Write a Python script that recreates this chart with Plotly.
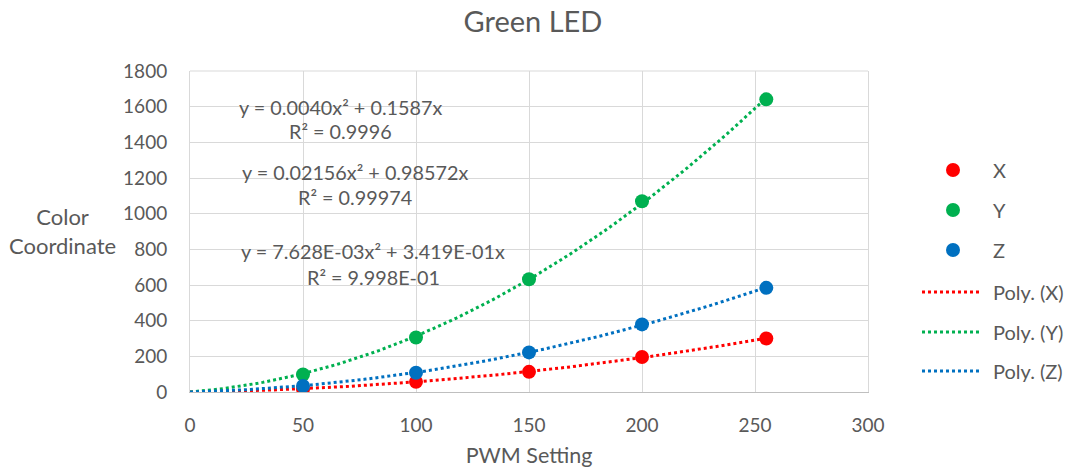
import numpy as np
import plotly.graph_objects as go

# ---- data ----
pwm = [50, 100, 150, 200, 255]
X_vals = [17, 57, 113, 196, 300]
Y_vals = [98, 306, 632, 1070, 1641]
Z_vals = [34, 108, 222, 379, 584]

series_names = ["X", "Y", "Z"]
series_colors = ["#FF0000", "#00B050", "#0070C0"]

eq_lines = [
    ("y = 0.0040x² + 0.1587x", "R² = 0.9996"),
    ("y = 0.02156x² + 0.98572x", "R² = 0.99974"),
    ("y = 7.628E-03x² + 3.419E-01x", "R² = 9.998E-01"),
]

x_ticks = [0, 50, 100, 150, 200, 250, 300]
y_ticks = [0, 200, 400, 600, 800, 1000, 1200, 1400, 1600, 1800]

FONT = "Lato"
GRAY = "#595959"

W, H = 1066, 468
L, R, T, B = 190, 868, 71, 392


def px(xp):
    return (xp - L) / (R - L)


def py(yp):
    return (B - yp) / (B - T)


def poly_fit(x, y):
    x = np.asarray(x, float)
    y = np.asarray(y, float)
    A = np.column_stack([x ** 2, x])
    c, *_ = np.linalg.lstsq(A, y, rcond=None)
    return c


fig = go.Figure()
all_vals = [X_vals, Y_vals, Z_vals]
xs = np.linspace(0, pwm[-1], 120)
for name, vals, col in zip(series_names, all_vals, series_colors):
    c = poly_fit(pwm, vals)
    fig.add_trace(go.Scatter(x=xs, y=c[0] * xs ** 2 + c[1] * xs, mode="lines",
                             line=dict(color=col, width=3, dash="3px,3px"),
                             name=f"Poly. ({name})", showlegend=False, hoverinfo="skip"))
for name, vals, col in zip(series_names, all_vals, series_colors):
    fig.add_trace(go.Scatter(x=pwm, y=vals, mode="markers", name=name,
                             marker=dict(color=col, size=14, line=dict(width=0)),
                             showlegend=False))

# equations
eq_pos = [(340, 107, 131), (355, 172, 197), (373, 251, 277)]
anns = []
for (eq, r2), (cx, y1, y2) in zip(eq_lines, eq_pos):
    anns.append(dict(x=px(cx), y=py(y1), xref="paper", yref="paper", text=eq, showarrow=False,
                     font=dict(family=FONT, size=19.8, color=GRAY), xanchor="center", yanchor="middle"))
    anns.append(dict(x=px(cx), y=py(y2), xref="paper", yref="paper", text=r2, showarrow=False,
                     font=dict(family=FONT, size=19.8, color=GRAY), xanchor="center", yanchor="middle"))

# y-axis title (horizontal, two lines)
anns.append(dict(x=px(62), y=py(231), xref="paper", yref="paper", text="Color<br>Coordinate",
                 showarrow=False, font=dict(family=FONT, size=22, color=GRAY),
                 xanchor="center", yanchor="middle", align="center"))

# plot-area top border
shapes = [dict(type="line", xref="paper", yref="paper", x0=0, x1=1, y0=1, y1=1,
               line=dict(color="#D9D9D9", width=1), layer="below")]

# manual legend
leg_marker_y = [170, 210, 250]
for name, col, yy in zip(series_names, series_colors, leg_marker_y):
    shapes.append(dict(type="circle", xref="paper", yref="paper", xsizemode="pixel", ysizemode="pixel",
                       xanchor=px(953), yanchor=py(yy), x0=-7, x1=7, y0=-7, y1=7,
                       fillcolor=col, line=dict(width=0)))
    anns.append(dict(x=px(991), y=py(yy), xref="paper", yref="paper", text=name, showarrow=False,
                     font=dict(family=FONT, size=20, color=GRAY), xanchor="left", yanchor="middle"))
leg_line_y = [292, 332, 371]
for name, col, yy in zip(series_names, series_colors, leg_line_y):
    shapes.append(dict(type="line", xref="paper", yref="paper", x0=px(922), x1=px(980),
                       y0=py(yy), y1=py(yy), line=dict(color=col, width=3, dash="3px,3px")))
    anns.append(dict(x=px(991), y=py(yy), xref="paper", yref="paper", text=f"Poly. ({name})",
                     showarrow=False, font=dict(family=FONT, size=20, color=GRAY),
                     xanchor="left", yanchor="middle"))

fig.update_layout(
    width=W, height=H,
    margin=dict(l=L, r=W - R, t=T, b=H - B, pad=0, autoexpand=False),
    paper_bgcolor="white", plot_bgcolor="white",
    title=dict(text="Green LED", x=0.5, xanchor="center", y=1 - 22 / H, yanchor="middle",
               font=dict(family=FONT, size=29, color=GRAY)),
    showlegend=False,
    annotations=anns,
    shapes=shapes,
    font=dict(family=FONT, color=GRAY),
)
fig.update_xaxes(range=[0, 300], tickvals=x_ticks, showgrid=True, gridcolor="#D9D9D9", gridwidth=1,
                 zeroline=False, showline=True, linecolor="#BFBFBF", linewidth=1, mirror=False,
                 automargin=False,
                 ticks="", ticklabelstandoff=16, tickfont=dict(family=FONT, size=19, color=GRAY),
                 title=dict(text="PWM Setting", font=dict(family=FONT, size=21.5, color=GRAY), standoff=14))
fig.update_yaxes(range=[0, 1800], tickvals=y_ticks, showgrid=True, gridcolor="#D9D9D9", gridwidth=1,
                 zeroline=False, showline=True, linecolor="#D9D9D9", linewidth=1, mirror=True,
                 automargin=False,
                 ticks="", ticklabelstandoff=18, tickfont=dict(family=FONT, size=19, color=GRAY))

fig.write_html("out.html", config={"displayModeBar": False},
               post_script="document.body.style.margin='0';document.body.style.padding='0';")
